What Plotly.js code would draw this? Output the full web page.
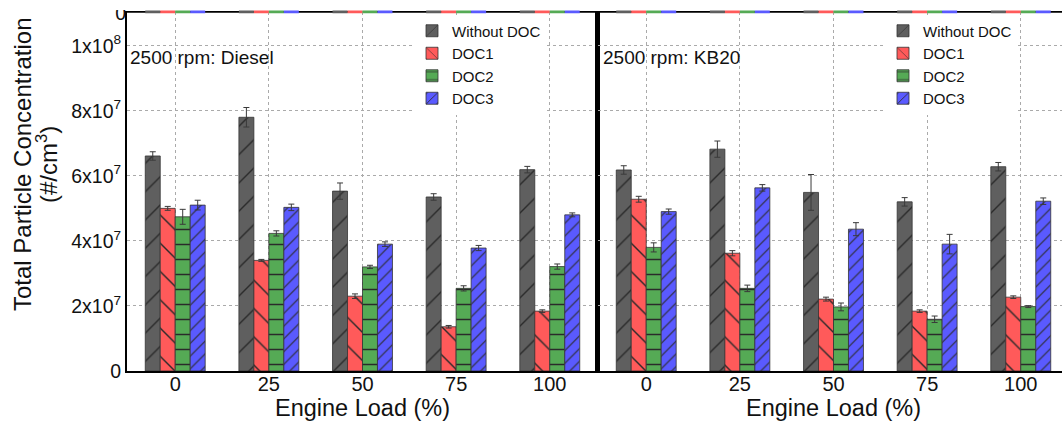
<!DOCTYPE html>
<html>
<head>
<meta charset="utf-8">
<script src="https://cdn.plot.ly/plotly-3.0.1.min.js"></script>
<style>
html,body{margin:0;padding:0;background:#fff;overflow:hidden;width:1062px;height:426px;}
#chart{width:1080px;height:426px;position:absolute;left:0;top:0;}
#clip{position:absolute;left:100px;top:0;width:26px;height:10px;background:#fff;}
</style>
</head>
<body>
<div id="chart"></div>
<div id="clip"></div>
<script>
// ---- data ----
const loads = ['0', '25', '50', '75', '100'];
const seriesNames = ['Without DOC', 'DOC1', 'DOC2', 'DOC3'];

const dieselNoDOC    = [6.61e7, 7.80e7, 5.53e7, 5.35e7, 6.19e7];
const dieselNoDOCErr = [0.13e7, 0.30e7, 0.25e7, 0.10e7, 0.10e7];
const dieselDOC1     = [5.00e7, 3.40e7, 2.30e7, 1.36e7, 1.84e7];
const dieselDOC1Err  = [0.06e7, 0.03e7, 0.07e7, 0.04e7, 0.04e7];
const dieselDOC2     = [4.74e7, 4.23e7, 3.20e7, 2.54e7, 3.21e7];
const dieselDOC2Err  = [0.23e7, 0.08e7, 0.05e7, 0.08e7, 0.08e7];
const dieselDOC3     = [5.10e7, 5.03e7, 3.90e7, 3.78e7, 4.80e7];
const dieselDOC3Err  = [0.15e7, 0.10e7, 0.07e7, 0.08e7, 0.06e7];

const kb20NoDOC    = [6.18e7, 6.82e7, 5.49e7, 5.20e7, 6.28e7];
const kb20NoDOCErr = [0.13e7, 0.25e7, 0.55e7, 0.13e7, 0.13e7];
const kb20DOC1     = [5.28e7, 3.62e7, 2.21e7, 1.84e7, 2.27e7];
const kb20DOC1Err  = [0.09e7, 0.08e7, 0.06e7, 0.04e7, 0.04e7];
const kb20DOC2     = [3.80e7, 2.54e7, 1.97e7, 1.59e7, 1.98e7];
const kb20DOC2Err  = [0.14e7, 0.10e7, 0.12e7, 0.10e7, 0.03e7];
const kb20DOC3     = [4.90e7, 5.63e7, 4.36e7, 3.90e7, 5.22e7];
const kb20DOC3Err  = [0.08e7, 0.10e7, 0.20e7, 0.30e7, 0.10e7];

const yTickVals = [0, 2e7, 4e7, 6e7, 8e7, 1e8];
const yTickText = ['0', '2x10<sup>7</sup>', '4x10<sup>7</sup>', '6x10<sup>7</sup>', '8x10<sup>7</sup>', '1x10<sup>8</sup>'];
const panelLabels = ['2500 rpm: Diesel', '2500 rpm: KB20'];

// ---- styles ----
const colors = ['rgb(95,95,95)', 'rgb(255,90,90)', 'rgb(85,170,85)', 'rgb(90,90,255)'];
const patterns = [
  {shape: '/', size: 20, solidity: 0.07},
  {shape: '\\', size: 20, solidity: 0.07},
  {shape: '-', size: 15, solidity: 0.1},
  {shape: '/', size: 9, solidity: 0.12}
];

const diesel = [[dieselNoDOC, dieselNoDOCErr], [dieselDOC1, dieselDOC1Err], [dieselDOC2, dieselDOC2Err], [dieselDOC3, dieselDOC3Err]];
const kb20 = [[kb20NoDOC, kb20NoDOCErr], [kb20DOC1, kb20DOC1Err], [kb20DOC2, kb20DOC2Err], [kb20DOC3, kb20DOC3Err]];

const FONT = 'Liberation Sans, Arial, sans-serif';
const traces = [];
function addPanel(data, xa, ya, stripY, legendName) {
  data.forEach((d, i) => {
    traces.push({
      type: 'bar', x: loads, y: d[0], name: seriesNames[i],
      xaxis: xa, yaxis: ya, legend: legendName,
      marker: {color: colors[i], line: {color: '#333', width: 0.8},
        pattern: Object.assign({fgcolor: '#2a2a2a', bgcolor: colors[i], fillmode: 'replace'}, patterns[i])},
      error_y: {type: 'data', array: d[1], visible: true, color: '#3a3a3a', thickness: 1, width: 3}
    });
  });
  data.forEach((d, i) => {
    traces.push({
      type: 'bar', x: loads, y: d[0], name: seriesNames[i], showlegend: false,
      xaxis: xa, yaxis: stripY, hoverinfo: 'skip',
      marker: {color: colors[i], line: {width: 0}}
    });
  });
}
addPanel(diesel, 'x', 'y', 'y3', 'legend');
addPanel(kb20, 'x2', 'y2', 'y4', 'legend2');

// geometry: plot area page px x 127..1069, y 8..371
const L = 127, R = 1069, T = 8, B = 371;
const PW = R - L, PH = B - T;
const px = X => (X - L) / PW;
const py = Y => (B - Y) / PH;

const xCommon = {
  type: 'category', range: [-0.515, 4.515],
  showgrid: true, gridcolor: '#aaa', griddash: 'dot', gridwidth: 1,
  showline: true, linecolor: '#000', linewidth: 1.5, mirror: true,
  ticks: '', ticklabelstandoff: -6, tickfont: {family: FONT, size: 20, color: '#111'},
  title: {text: 'Engine Load (%)', font: {family: FONT, size: 23.5, color: '#111'}, standoff: 6},
  zeroline: false
};
const mainDomain = [0, py(12)];
const stripDomain = [py(13.5), py(10.5)];
const yCommon = {
  range: [0, 1.1036e8], domain: mainDomain,
  tickvals: yTickVals, ticktext: yTickText,
  showgrid: true, gridcolor: '#aaa', griddash: 'dot', gridwidth: 1,
  zeroline: false, ticks: '', showline: true, linecolor: '#000',
  tickfont: {family: FONT, size: 19.5, color: '#111'}
};

const layout = {
  width: 1080, height: 426,
  margin: {l: L, r: 1080 - R, t: T, b: 426 - B},
  paper_bgcolor: '#fff', plot_bgcolor: 'rgba(0,0,0,0)',
  barmode: 'group', bargap: 0.36, bargroupgap: 0,
  font: {family: FONT, color: '#111'},
  xaxis: Object.assign({}, xCommon, {domain: [0, 0.5], anchor: 'y'}),
  xaxis2: Object.assign({}, xCommon, {domain: [0.5, 1], anchor: 'y2'}),
  yaxis: Object.assign({}, yCommon, {anchor: 'x', linewidth: 2, mirror: true}),
  yaxis2: Object.assign({}, yCommon, {anchor: 'x2', linewidth: 3, showticklabels: false}),
  yaxis3: {domain: stripDomain, anchor: 'x', range: [0, 1], showgrid: false, zeroline: false,
    tickvals: [0], ticktext: ['0'], ticks: '', showline: false,
    tickfont: {family: FONT, size: 19.5, color: '#111'}},
  yaxis4: {domain: stripDomain, anchor: 'x2', range: [0, 1], showgrid: false, zeroline: false,
    showticklabels: false, ticks: '', showline: false},
  legend: {x: px(412), y: py(14.5), xanchor: 'left', yanchor: 'top', bgcolor: '#fff',
    font: {family: FONT, size: 15, color: '#111'}, tracegroupgap: 0, itemwidth: 30},
  legend2: {x: px(883), y: py(14.5), xanchor: 'left', yanchor: 'top', bgcolor: '#fff',
    font: {family: FONT, size: 15, color: '#111'}, tracegroupgap: 0, itemwidth: 30},
  shapes: [
    {type: 'line', xref: 'paper', yref: 'paper', x0: 0, x1: 1, y0: py(12), y1: py(12),
      line: {color: '#000', width: 1.5}, layer: 'below'}
  ],
  annotations: [
    {text: panelLabels[0], xref: 'paper', yref: 'paper', x: px(128), y: py(57), xanchor: 'left', yanchor: 'middle',
      showarrow: false, font: {family: FONT, size: 19, color: '#111'}},
    {text: panelLabels[1], xref: 'paper', yref: 'paper', x: px(601), y: py(57), xanchor: 'left', yanchor: 'middle',
      showarrow: false, font: {family: FONT, size: 19, color: '#111'}},
    {text: 'Total Particle Concentration', xref: 'paper', yref: 'paper', x: px(22), y: py(165),
      xanchor: 'center', yanchor: 'middle', textangle: -90, showarrow: false,
      font: {family: FONT, size: 24, color: '#111'}},
    {text: '(#/cm<sup>3</sup>)', xref: 'paper', yref: 'paper', x: px(47), y: py(165),
      xanchor: 'center', yanchor: 'middle', textangle: -90, showarrow: false,
      font: {family: FONT, size: 24, color: '#111'}}
  ]
};

Plotly.newPlot('chart', traces, layout, {displayModeBar: false, staticPlot: true});
</script>
</body>
</html>
